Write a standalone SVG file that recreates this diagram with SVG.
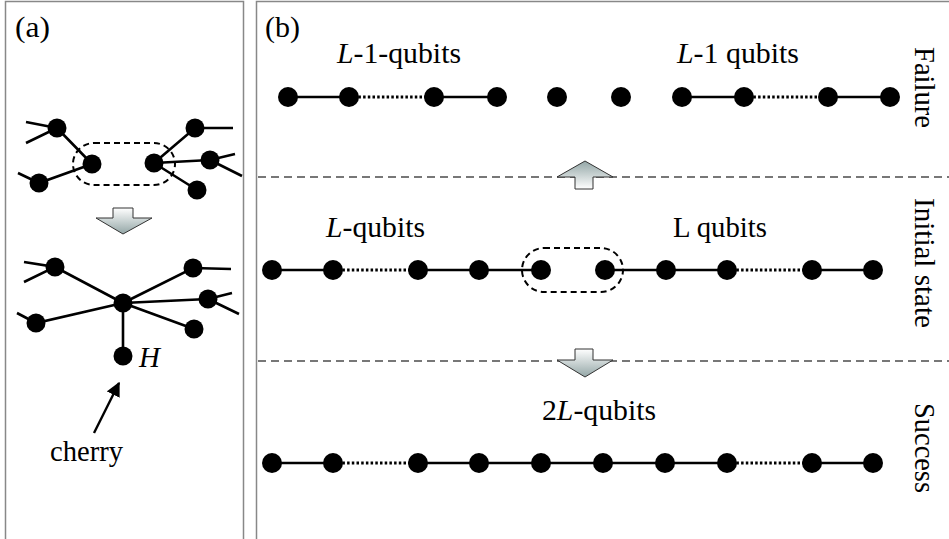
<svg xmlns="http://www.w3.org/2000/svg" width="949" height="539" viewBox="0 0 949 539">
<style>
.n{fill:#000}
.e{stroke:#000;stroke-width:2.6;fill:none}
.d{stroke:#000;stroke-width:3;stroke-dasharray:2.5 2.2;fill:none}
.grp{stroke:#000;stroke-width:2;stroke-dasharray:6 4;fill:none}
.sep{stroke:#777;stroke-width:2;stroke-dasharray:8 5;fill:none}
.pan{stroke:#888;stroke-width:1.5;fill:none}
.i{font-style:italic}
.blk{stroke:#333;stroke-width:1}
</style>
<defs>
<linearGradient id="gDown" x1="0" y1="0" x2="0" y2="1"><stop offset="0" stop-color="#ffffff"/><stop offset="1" stop-color="#93a6a6"/></linearGradient>
<linearGradient id="gUp" x1="0" y1="1" x2="0" y2="0"><stop offset="0" stop-color="#ffffff"/><stop offset="1" stop-color="#93a6a6"/></linearGradient>
<marker id="ah" viewBox="0 0 10 10" refX="9" refY="5" markerWidth="6" markerHeight="6" orient="auto" markerUnits="strokeWidth"><path d="M0,0 L10,5 L0,10 z" fill="#000"/></marker>
</defs>
<rect width="949" height="539" fill="#fff"/>
<!-- panels -->
<path class="pan" d="M5.5,539 V1.5 H243.5 V539"/>
<path class="pan" d="M256.5,539 V1.5 H949"/>
<!-- separators -->
<line class="sep" x1="258" y1="177" x2="949" y2="177"/>
<line class="sep" x1="258" y1="361" x2="949" y2="361"/>
<!-- block arrows -->
<path class="blk" fill="url(#gDown)" d="M113,208 H133 V218 H152 L123,234 L96,218 H113 Z"/>
<path class="blk" fill="url(#gUp)" d="M585,161 L613,177 H593 V189 H575 V177 H557 Z"/>
<path class="blk" fill="url(#gDown)" d="M575,349 H593 V360 H613 L585,377 L557,360 H575 Z"/>
<!-- connectors -->
<g id="connectors">
<path class="e" d="M26,122 L57,128 L26,143 M57,128 L92,164 M18,173 L39,183 L92,164 M154,163 L195,128 L233,128 M154,163 L210,160 L235,154 M210,160 L242,176 M154,163 L197,190"/>
<rect class="grp" x="73" y="143" width="102" height="42" rx="21" ry="21"/>
<path class="e" d="M24,262 L55,267 L24,282 M55,267 L123,303 M17,313 L36,323 L123,303 M123,303 L193,268 L231,269 M123,303 L208,299 L232,293 M208,299 L239,314 M123,303 L194,329 M123,303 L123,356"/>
<line x1="94" y1="433" x2="119" y2="383" stroke="#000" stroke-width="2.4" marker-end="url(#ah)"/>
<path class="e" d="M288,97 H349 M434,97 H497 M682,97 H744 M828,97 H890"/>
<path class="d" d="M349,97 H434 M744,97 H828"/>
<path class="e" d="M272,270 H333 M418,270 H541 M605,270 H727 M812,270 H873"/>
<path class="d" d="M333,270 H418 M727,270 H812"/>
<rect class="grp" x="522" y="248" width="101" height="44" rx="22" ry="22"/>
<path class="e" d="M272,463 H333 M418,463 H727 M812,463 H873"/>
<path class="d" d="M333,463 H418 M727,463 H812"/>
</g>
<!-- panel a nodes -->
<g id="a1"><circle class="n" cx="57" cy="128" r="9.5"/></g>
<g id="a2"><circle class="n" cx="92" cy="164" r="9.5"/></g>
<g id="a3"><circle class="n" cx="39" cy="183" r="9.5"/></g>
<g id="a4"><circle class="n" cx="154" cy="163" r="9.5"/></g>
<g id="a5"><circle class="n" cx="195" cy="128" r="9.5"/></g>
<g id="a6"><circle class="n" cx="210" cy="160" r="9.5"/></g>
<g id="a7"><circle class="n" cx="197" cy="190" r="9.5"/></g>
<g id="c0"><circle class="n" cx="123" cy="303" r="9.5"/></g>
<g id="c1"><circle class="n" cx="55" cy="267" r="9.5"/></g>
<g id="c2"><circle class="n" cx="36" cy="323" r="9.5"/></g>
<g id="c3"><circle class="n" cx="193" cy="268" r="9.5"/></g>
<g id="c4"><circle class="n" cx="208" cy="299" r="9.5"/></g>
<g id="c5"><circle class="n" cx="194" cy="329" r="9.5"/></g>
<g id="cH"><circle class="n" cx="123" cy="356" r="9.5"/></g>
<!-- failure row nodes -->
<g id="f1"><circle class="n" cx="288" cy="97" r="10"/></g>
<g id="f2"><circle class="n" cx="349" cy="97" r="10"/></g>
<g id="f3"><circle class="n" cx="434" cy="97" r="10"/></g>
<g id="f4"><circle class="n" cx="497" cy="97" r="10"/></g>
<g id="f5"><circle class="n" cx="557" cy="97" r="10"/></g>
<g id="f6"><circle class="n" cx="621" cy="97" r="10"/></g>
<g id="f7"><circle class="n" cx="682" cy="97" r="10"/></g>
<g id="f8"><circle class="n" cx="744" cy="97" r="10"/></g>
<g id="f9"><circle class="n" cx="828" cy="97" r="10"/></g>
<g id="f10"><circle class="n" cx="890" cy="97" r="10"/></g>
<!-- initial row nodes -->
<g id="i1"><circle class="n" cx="272" cy="270" r="10"/></g>
<g id="i2"><circle class="n" cx="333" cy="270" r="10"/></g>
<g id="i3"><circle class="n" cx="418" cy="270" r="10"/></g>
<g id="i4"><circle class="n" cx="479" cy="270" r="10"/></g>
<g id="i5"><circle class="n" cx="541" cy="270" r="10"/></g>
<g id="i6"><circle class="n" cx="605" cy="270" r="10"/></g>
<g id="i7"><circle class="n" cx="666" cy="270" r="10"/></g>
<g id="i8"><circle class="n" cx="727" cy="270" r="10"/></g>
<g id="i9"><circle class="n" cx="812" cy="270" r="10"/></g>
<g id="i10"><circle class="n" cx="873" cy="270" r="10"/></g>
<!-- success row nodes -->
<g id="s1"><circle class="n" cx="272" cy="463" r="10"/></g>
<g id="s2"><circle class="n" cx="333" cy="463" r="10"/></g>
<g id="s3"><circle class="n" cx="418" cy="463" r="10"/></g>
<g id="s4"><circle class="n" cx="479" cy="463" r="10"/></g>
<g id="s5"><circle class="n" cx="541" cy="463" r="10"/></g>
<g id="s6"><circle class="n" cx="603" cy="463" r="10"/></g>
<g id="s7"><circle class="n" cx="665" cy="463" r="10"/></g>
<g id="s8"><circle class="n" cx="727" cy="463" r="10"/></g>
<g id="s9"><circle class="n" cx="812" cy="463" r="10"/></g>
<g id="s10"><circle class="n" cx="873" cy="463" r="10"/></g>
<!-- labels -->
<g id="labels" font-family="Liberation Serif, serif" font-size="29" fill="#000">
<text x="15" y="37" textLength="35" lengthAdjust="spacingAndGlyphs">(a)</text>
<text x="265" y="37" textLength="35" lengthAdjust="spacingAndGlyphs">(b)</text>
<text class="i" x="139" y="367">H</text>
<text x="50" y="461" textLength="73" lengthAdjust="spacingAndGlyphs">cherry</text>
<text x="337" y="63" textLength="124" lengthAdjust="spacingAndGlyphs"><tspan class="i">L</tspan>-1-qubits</text>
<text x="677" y="63" textLength="122" lengthAdjust="spacingAndGlyphs"><tspan class="i">L</tspan>-1 qubits</text>
<text transform="translate(915,47) rotate(90)" textLength="81" lengthAdjust="spacingAndGlyphs">Failure</text>
<text x="326" y="237" textLength="99" lengthAdjust="spacingAndGlyphs"><tspan class="i">L</tspan>-qubits</text>
<text x="673" y="237" textLength="94" lengthAdjust="spacingAndGlyphs">L qubits</text>
<text transform="translate(915,198) rotate(90)" textLength="130" lengthAdjust="spacingAndGlyphs">Initial state</text>
<text x="542" y="420" textLength="114" lengthAdjust="spacingAndGlyphs">2<tspan class="i">L</tspan>-qubits</text>
<text transform="translate(915,403) rotate(90)" textLength="90" lengthAdjust="spacingAndGlyphs">Success</text>
</g>
</svg>
